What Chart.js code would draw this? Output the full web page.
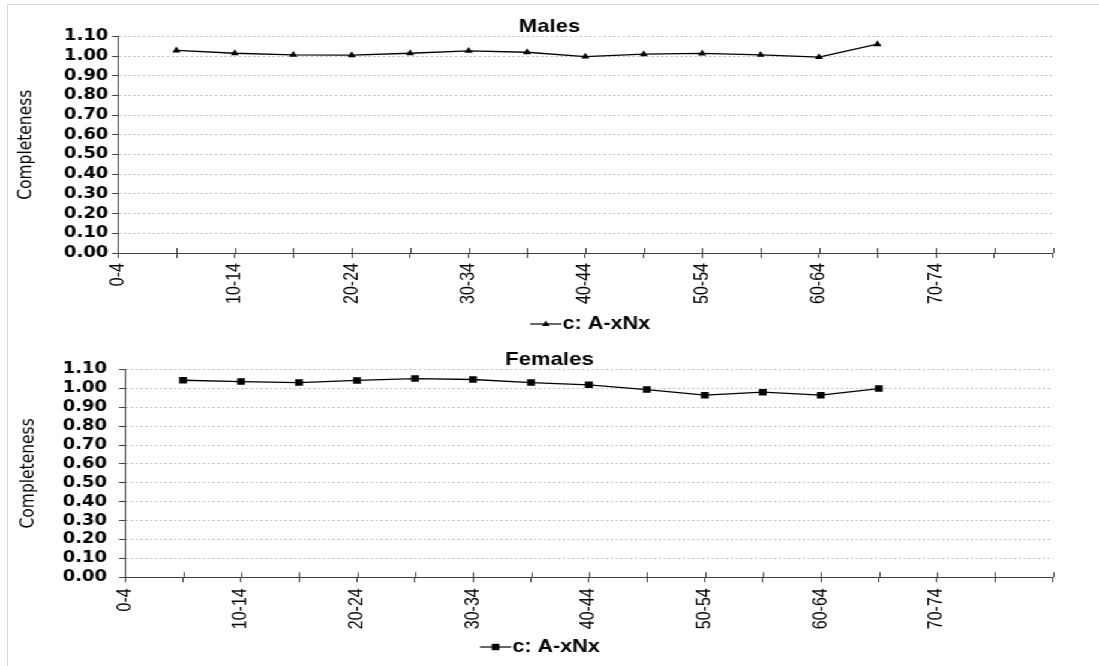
<!DOCTYPE html>
<html>
<head>
<meta charset="utf-8">
<script src="https://cdn.jsdelivr.net/npm/chart.js@4.4.1/dist/chart.umd.min.js"></script>
<style>
  html, body { margin: 0; padding: 0; background: #ffffff; width: 1099px; height: 666px; overflow: hidden; }
  #wrap { position: absolute; left: 0; top: 0; width: 916px; height: 666px; transform-origin: 0 0; transform: scaleX(1.19978); }
  #c1 { position: absolute; left: 0; top: 0; }
  #c2 { position: absolute; left: 0; top: 333px; }
  .bd { position: absolute; background: #d9d9d9; }
</style>
</head>
<body>
<div class="bd" style="left:7px; top:4px; width:1092px; height:1px;"></div>
<div class="bd" style="left:7px; top:4px; width:1px; height:662px;"></div>
<div id="wrap">
  <canvas id="c1" width="916" height="343"></canvas>
  <canvas id="c2" width="916" height="333"></canvas>
</div>
<script>
// ---- data ----
const categories = ['0-4','5-9','10-14','15-19','20-24','25-29','30-34','35-39','40-44','45-49','50-54','55-59','60-64','65-69','70-74','75-79','80+'];
const tickLabels = ['0-4','','10-14','','20-24','','30-34','','40-44','','50-54','','60-64','','70-74','',''];
const yTicks = [0.00, 0.10, 0.20, 0.30, 0.40, 0.50, 0.60, 0.70, 0.80, 0.90, 1.00, 1.10];
const malesCompleteness = [null, 1.029, 1.015, 1.007, 1.005, 1.015, 1.027, 1.020, 0.998, 1.010, 1.014, 1.007, 0.995, 1.061, null, null, null];
const femalesCompleteness = [null, 1.043, 1.036, 1.031, 1.042, 1.052, 1.047, 1.031, 1.019, 0.994, 0.964, 0.980, 0.964, 0.999, null, null, null];
const seriesName = 'c: A-xNx';
const yAxisTitle = 'Completeness';

Chart.defaults.font.family = "'Liberation Sans', Arial, sans-serif";
Chart.defaults.color = '#000000';

const AXIS = '#404040';

function legendImage(style) {
  const c = document.createElement('canvas');
  c.width = 26; c.height = 10;
  const g = c.getContext('2d');
  g.strokeStyle = '#000'; g.lineWidth = 1.2;
  g.beginPath(); g.moveTo(0, 5); g.lineTo(26, 5); g.stroke();
  g.fillStyle = '#000';
  if (style === 'triangle') {
    g.beginPath(); g.moveTo(13, 1.6); g.lineTo(16.2, 7); g.lineTo(9.8, 7); g.closePath(); g.fill();
  } else {
    g.fillRect(9.8, 1.8, 6.4, 6.4);
  }
  return c;
}

const crossTicks = {
  id: 'crossTicks',
  afterLayout(chart, args, opts) {
    if (opts.legendShift && chart.legend) {
      chart.legend.left += opts.legendShift;
      chart.legend.right += opts.legendShift;
    }
  },
  afterDraw(chart) {
    const s = chart.scales.x;
    const ctx = chart.ctx;
    ctx.save();
    ctx.strokeStyle = AXIS;
    ctx.lineWidth = 1;
    for (let i = 0; i < s.ticks.length; i++) {
      const x = Math.round(s.getPixelForTick(i)) + 0.5;
      ctx.beginPath(); ctx.moveTo(x, s.top - 5); ctx.lineTo(x, s.top); ctx.stroke();
    }
    ctx.restore();
  }
};

function makeChart(id, p) {
  const img = legendImage(p.marker);
  return new Chart(document.getElementById(id), {
    type: 'line',
    data: {
      labels: categories,
      datasets: [{
        label: seriesName,
        data: p.values,
        borderColor: '#000000',
        backgroundColor: '#000000',
        borderWidth: 1.3,
        pointStyle: p.marker,
        pointRadius: p.radius,
        pointHoverRadius: p.radius,
        pointBackgroundColor: '#000000',
        pointBorderColor: '#000000',
        pointBorderWidth: 0,
        tension: 0,
        fill: false
      }]
    },
    options: {
      responsive: false,
      animation: false,
      devicePixelRatio: 1,
      layout: { padding: 0 },
      plugins: {
        crossTicks: { legendShift: p.legendShift },
        title: {
          display: true,
          text: p.title,
          color: '#000',
          font: { size: 18.5, weight: 'bold', lineHeight: 1 },
          padding: { top: 18, bottom: 0 }
        },
        legend: {
          display: true,
          position: 'bottom',
          fullSize: p.legendFull,
          labels: {
            usePointStyle: true,
            pointStyleWidth: 10,
            padding: 6,
            color: '#000',
            font: { size: 18, weight: 'bold' },
            generateLabels: () => [{ text: seriesName, pointStyle: img, fillStyle: '#000', strokeStyle: '#000', lineWidth: 0, hidden: false, datasetIndex: 0 }]
          }
        },
        tooltip: { enabled: false }
      },
      scales: {
        x: {
          type: 'category',
          offset: false,
          afterFit: (s) => { s.height = p.xHeight; },
          grid: { display: true, drawOnChartArea: false, drawTicks: true, tickLength: 5, tickColor: AXIS, tickWidth: 1 },
          border: { display: true, color: AXIS, width: 1 },
          ticks: {
            autoSkip: false,
            maxRotation: 90,
            minRotation: 90,
            padding: p.xTickPad,
            color: '#000',
            font: { size: 16 },
            callback: (v, i) => tickLabels[i]
          }
        },
        y: {
          min: 0,
          max: 1.1,
          afterFit: (s) => { s.width = p.yWidth; },
          afterBuildTicks: (s) => { s.ticks = yTicks.map(v => ({ value: v })); },
          grid: { color: '#c4c4c4', lineWidth: 1, drawTicks: true, tickLength: 5, tickColor: AXIS, tickWidth: 1 },
          border: { display: true, color: AXIS, width: 1, dash: [2, 2] },
          ticks: {
            autoSkip: false,
            padding: p.yTickPad,
            color: '#000',
            font: { family: "'DejaVu Sans', sans-serif", size: 15, weight: 'bold' },
            callback: (v) => Number(v).toFixed(2)
          },
          title: {
            display: true,
            text: yAxisTitle,
            color: '#000',
            font: { family: "'DejaVu Sans', sans-serif", size: 15.5 },
            padding: { top: p.yTitlePad, bottom: 0 }
          }
        },
        yRight: {
          type: 'linear',
          position: 'right',
          display: true,
          afterFit: (s) => { s.width = 916 - 877.5; },
          grid: { display: false, drawOnChartArea: false },
          border: { display: false },
          ticks: { display: false }
        }
      }
    },
    plugins: [crossTicks]
  });
}

makeChart('c1', { values: malesCompleteness, title: 'Males', marker: 'triangle', radius: 3.9, yWidth: 98.3, yTickPad: 3, xHeight: 56, xTickPad: 5, legendFull: false, legendShift: 8, yTitlePad: 13 });
makeChart('c2', { values: femalesCompleteness, title: 'Females', marker: 'rect', radius: 4.6, yWidth: 104.2, yTickPad: 10, xHeight: 54.7, xTickPad: 6, legendFull: true, legendShift: -4, yTitlePad: 15 });
</script>
</body>
</html>
